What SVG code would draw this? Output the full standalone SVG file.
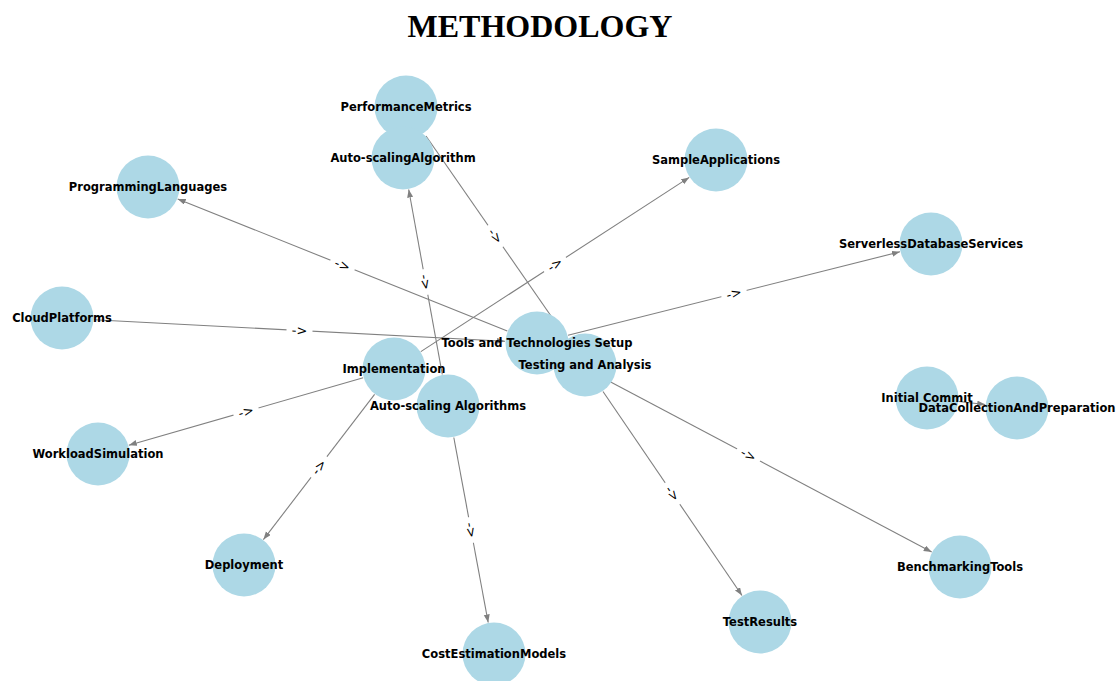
<svg xmlns="http://www.w3.org/2000/svg" width="1120" height="681" viewBox="0 0 1120 681">
<defs>
<marker id="arr" markerUnits="userSpaceOnUse" markerWidth="9" markerHeight="7" refX="8" refY="3" orient="auto">
<path d="M0,0 L8,3 L0,6 z" fill="#808080"/>
</marker>
<style>
.edge{stroke:#808080;stroke-width:1.1;fill:none;marker-end:url(#arr)}
.plain{stroke:#808080;stroke-width:1.1;fill:none}
.node{fill:#ADD8E6}
.nl{font-family:"DejaVu Sans",sans-serif;font-weight:bold;font-size:11.5px;fill:#000;text-anchor:middle}
.elbg{fill:#fff}
.el{font-family:"DejaVu Sans",sans-serif;font-size:13px;fill:#000;text-anchor:middle}
.title{font-family:"Liberation Serif",serif;font-weight:bold;font-size:32px;fill:#000;text-anchor:middle}
</style>
</defs>
<rect width="1120" height="681" fill="#fff"/>
<text class="title" x="540" y="37">METHODOLOGY</text>
<g id="edges">
<line class="edge" x1="507.3" y1="331.1" x2="177.7" y2="198.9"/>
<line class="edge" x1="94" y1="319.7" x2="505" y2="341.3"/>
<line class="edge" x1="568" y1="335.2" x2="900" y2="251.8"/>
<line class="edge" x1="420.8" y1="351.6" x2="689.2" y2="177.4"/>
<line class="edge" x1="363.2" y1="377.8" x2="128.8" y2="445.2"/>
<line class="edge" x1="374.6" y1="394.4" x2="263.4" y2="539.6"/>
<line class="edge" x1="442.3" y1="374.5" x2="408.7" y2="189.5"/>
<line class="edge" x1="453.8" y1="437.5" x2="488.2" y2="622.5"/>
<line class="plain" x1="566.8" y1="338.7" x2="426" y2="136"/>
<line class="edge" x1="603" y1="391.5" x2="742" y2="595.5"/>
<line class="edge" x1="565.3" y1="358" x2="931.7" y2="552"/>
<line class="edge" x1="958.8" y1="401.5" x2="985.2" y2="404.5"/>
</g>
<g id="nodes">
<g id="node-PerformanceMetrics"><circle class="node" cx="406" cy="107" r="31.5"/></g>
<g id="node-Auto-scalingAlgorithm"><circle class="node" cx="403" cy="158" r="31.5"/></g>
<g id="node-ProgrammingLanguages"><circle class="node" cx="148" cy="187" r="31.5"/></g>
<g id="node-SampleApplications"><circle class="node" cx="716" cy="160" r="31.5"/></g>
<g id="node-ServerlessDatabaseServices"><circle class="node" cx="931" cy="244" r="31.5"/></g>
<g id="node-CloudPlatforms"><circle class="node" cx="62" cy="318" r="31.5"/></g>
<g id="node-ToolsAndTechnologiesSetup"><circle class="node" cx="537" cy="343" r="31.5"/></g>
<g id="node-TestingAndAnalysis"><circle class="node" cx="585" cy="365" r="31.5"/></g>
<g id="node-Implementation"><circle class="node" cx="394" cy="369" r="31.5"/></g>
<g id="node-Auto-scalingAlgorithms"><circle class="node" cx="448" cy="406" r="31.5"/></g>
<g id="node-InitialCommit"><circle class="node" cx="927" cy="398" r="31.5"/></g>
<g id="node-DataCollectionAndPreparation"><circle class="node" cx="1017" cy="408" r="31.5"/></g>
<g id="node-WorkloadSimulation"><circle class="node" cx="98" cy="454" r="31.5"/></g>
<g id="node-Deployment"><circle class="node" cx="244" cy="565" r="31.5"/></g>
<g id="node-BenchmarkingTools"><circle class="node" cx="960" cy="567" r="31.5"/></g>
<g id="node-TestResults"><circle class="node" cx="760" cy="622" r="31.5"/></g>
<g id="node-CostEstimationModels"><circle class="node" cx="494" cy="654" r="31.5"/></g>
</g>
<g id="node-labels">
<text class="nl" x="406" y="111">PerformanceMetrics</text>
<text class="nl" x="403" y="162">Auto-scalingAlgorithm</text>
<text class="nl" x="148" y="191">ProgrammingLanguages</text>
<text class="nl" x="716" y="164">SampleApplications</text>
<text class="nl" x="931" y="248">ServerlessDatabaseServices</text>
<text class="nl" x="62" y="322">CloudPlatforms</text>
<text class="nl" x="537" y="347">Tools and Technologies Setup</text>
<text class="nl" x="585" y="369">Testing and Analysis</text>
<text class="nl" x="394" y="373">Implementation</text>
<text class="nl" x="448" y="410">Auto-scaling Algorithms</text>
<text class="nl" x="927" y="402">Initial Commit</text>
<text class="nl" x="1017" y="412">DataCollectionAndPreparation</text>
<text class="nl" x="98" y="458">WorkloadSimulation</text>
<text class="nl" x="244" y="569">Deployment</text>
<text class="nl" x="960" y="571">BenchmarkingTools</text>
<text class="nl" x="760" y="626">TestResults</text>
<text class="nl" x="494" y="658">CostEstimationModels</text>
</g>
<g id="edge-labels">
<g transform="translate(342.5,265) rotate(21.85)"><rect class="elbg" x="-13" y="-8" width="26" height="16" rx="4"/><text class="el" y="4.5">-&gt;</text></g>
<g transform="translate(299.5,330.5) rotate(3.01)"><rect class="elbg" x="-13" y="-8" width="26" height="16" rx="4"/><text class="el" y="4.5">-&gt;</text></g>
<g transform="translate(734,293.5) rotate(-14.1)"><rect class="elbg" x="-13" y="-8" width="26" height="16" rx="4"/><text class="el" y="4.5">-&gt;</text></g>
<g transform="translate(555,264.5) rotate(-33)"><rect class="elbg" x="-13" y="-8" width="26" height="16" rx="4"/><text class="el" y="4.5">-&gt;</text></g>
<g transform="translate(246,411.5) rotate(-16)"><rect class="elbg" x="-13" y="-8" width="26" height="16" rx="4"/><text class="el" y="4.5">-&gt;</text></g>
<g transform="translate(319,467) rotate(-52.6)"><rect class="elbg" x="-13" y="-8" width="26" height="16" rx="4"/><text class="el" y="4.5">-&gt;</text></g>
<g transform="translate(425.5,282) rotate(79.7)"><rect class="elbg" x="-13" y="-8" width="26" height="16" rx="4"/><text class="el" y="4.5">-&gt;</text></g>
<g transform="translate(471,530) rotate(79.5)"><rect class="elbg" x="-13" y="-8" width="26" height="16" rx="4"/><text class="el" y="4.5">-&gt;</text></g>
<g transform="translate(495.5,236) rotate(55.25)"><rect class="elbg" x="-13" y="-8" width="26" height="16" rx="4"/><text class="el" y="4.5">-&gt;</text></g>
<g transform="translate(672.5,493.5) rotate(55.75)"><rect class="elbg" x="-13" y="-8" width="26" height="16" rx="4"/><text class="el" y="4.5">-&gt;</text></g>
<g transform="translate(748.5,455) rotate(27.9)"><rect class="elbg" x="-13" y="-8" width="26" height="16" rx="4"/><text class="el" y="4.5">-&gt;</text></g>
</g>
</svg>
